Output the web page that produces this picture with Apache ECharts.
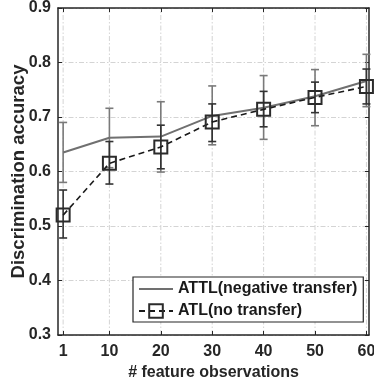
<!DOCTYPE html>
<html>
<head>
<meta charset="utf-8">
<script src="https://cdn.jsdelivr.net/npm/echarts@6/dist/echarts.min.js"></script>
<style>
  html, body { margin: 0; padding: 0; background: #fff; }
  #chart { width: 374px; height: 387px; }
</style>
</head>
<body>
<div id="chart"></div>
<script>
// 数据
var xValues = [1, 10, 20, 30, 40, 50, 60]
var yTicks = [0.3, 0.4, 0.5, 0.6, 0.7, 0.8, 0.9]

var attlMean = [0.635, 0.662, 0.664, 0.702, 0.717, 0.738, 0.766]
var attlLow = [0.580, 0.607, 0.599, 0.649, 0.659, 0.684, 0.719]
var attlHigh = [0.690, 0.716, 0.728, 0.757, 0.776, 0.787, 0.815]

var atlMean = [0.520, 0.615, 0.645, 0.691, 0.714, 0.736, 0.756]
var atlLow = [0.478, 0.577, 0.605, 0.655, 0.682, 0.708, 0.724]
var atlHigh = [0.566, 0.655, 0.685, 0.724, 0.747, 0.764, 0.788]

var font = '"Liberation Sans", Arial, Helvetica, sans-serif'
var axisColor = '#262626'
var gridColor = '#d4d4d4'
var dashDot = [5, 2, 1.5, 2]

function pairs(xs, ys) {
  return xs.map(function (x, i) { return [x, ys[i]] })
}
function bars(xs, lo, hi) {
  return xs.map(function (x, i) { return [x, lo[i], hi[i]] })
}

// 误差棒
function errorBar(color) {
  return function (params, api) {
    var x = api.value(0)
    var lo = api.coord([x, api.value(1)])
    var hi = api.coord([x, api.value(2)])
    var w = 4
    var style = { stroke: color, lineWidth: 1.6 }
    return {
      type: 'group',
      children: [
        { type: 'line', shape: { x1: lo[0], y1: lo[1], x2: hi[0], y2: hi[1] }, style: style },
        { type: 'line', shape: { x1: lo[0] - w, y1: lo[1], x2: lo[0] + w, y2: lo[1] }, style: style },
        { type: 'line', shape: { x1: hi[0] - w, y1: hi[1], x2: hi[0] + w, y2: hi[1] }, style: style },
      ],
    }
  }
}

var chart = echarts.init(document.getElementById('chart'))
var option = {
  animation: false,
  textStyle: { fontFamily: font },
  grid: { left: 58, right: 5, top: 8, bottom: 52, outerBoundsMode: 'none' },
  legend: {
    data: [
      { name: 'ATTL(negative transfer)', itemStyle: { opacity: 0 } },
      { name: 'ATL(no transfer)' },
    ],
    orient: 'vertical',
    left: 133,
    top: 277,
    itemWidth: 34,
    itemHeight: 17,
    itemGap: 6,
    padding: [4, 6, 3, 5],
    borderColor: axisColor,
    borderWidth: 1.2,
    backgroundColor: '#fff',
    textStyle: { fontFamily: font, fontWeight: 'bold', fontSize: 16, color: '#1a1a1a' },
  },
  xAxis: [
    {
      type: 'value',
      min: 0,
      max: 60.5,
      name: '# feature observations',
      nameLocation: 'middle',
      nameGap: 30,
      nameMoveOverlap: false,
      nameTextStyle: { fontFamily: font, fontWeight: 'bold', fontSize: 16, color: '#262626' },
      axisLine: { lineStyle: { color: axisColor, width: 1.5 } },
      axisTick: { inside: true, length: 4, customValues: xValues, lineStyle: { color: axisColor } },
      axisLabel: {
        customValues: xValues,
        margin: 9,
        fontFamily: font,
        fontWeight: 'bold',
        fontSize: 16,
        color: '#262626',
      },
      splitLine: { show: false },
    },
    {
      type: 'value',
      position: 'top',
      min: 0,
      max: 60.5,
      axisLine: { onZero: false, lineStyle: { color: axisColor, width: 1.5 } },
      axisTick: { inside: true, length: 4, customValues: xValues, lineStyle: { color: axisColor } },
      axisLabel: { show: false },
      splitLine: { show: false },
    },
  ],
  yAxis: [
    {
      type: 'value',
      min: 0.3,
      max: 0.9,
      interval: 0.1,
      name: 'Discrimination accuracy',
      nameLocation: 'middle',
      nameGap: 30,
      nameMoveOverlap: false,
      nameTextStyle: { fontFamily: font, fontWeight: 'bold', fontSize: 18.5, color: '#262626' },
      axisLine: { show: true, lineStyle: { color: axisColor, width: 1.5 } },
      axisTick: { show: true, inside: true, length: 4, lineStyle: { color: axisColor } },
      axisLabel: {
        margin: 7,
        fontFamily: font,
        fontWeight: 'bold',
        fontSize: 16,
        color: '#262626',
        formatter: function (v) { return v.toFixed(1) },
      },
      splitLine: { show: true, lineStyle: { color: gridColor, type: dashDot, width: 1 } },
    },
    {
      type: 'value',
      position: 'right',
      min: 0.3,
      max: 0.9,
      interval: 0.1,
      axisLine: { show: true, onZero: false, lineStyle: { color: axisColor, width: 1.5 } },
      axisTick: { show: true, inside: true, length: 4, lineStyle: { color: axisColor } },
      axisLabel: { show: false },
      splitLine: { show: false },
    },
  ],
  series: [
    {
      // 竖向网格线
      name: 'vgrid',
      type: 'custom',
      silent: true,
      z: 0,
      data: xValues.map(function (x) { return [x] }),
      encode: { x: 0 },
      renderItem: function (params, api) {
        var x = api.value(0)
        var a = api.coord([x, yTicks[0]])
        var b = api.coord([x, yTicks[yTicks.length - 1]])
        return {
          type: 'line',
          shape: { x1: a[0], y1: a[1], x2: b[0], y2: b[1] },
          style: { stroke: gridColor, lineWidth: 1, lineDash: dashDot },
        }
      },
    },
    {
      name: 'ATTL(negative transfer)',
      type: 'line',
      data: pairs(xValues, attlMean),
      symbol: 'none',
      z: 3,
      lineStyle: { color: '#707070', width: 2 },
      itemStyle: { color: '#707070' },
    },
    {
      name: 'attl-err',
      type: 'custom',
      z: 3,
      data: bars(xValues, attlLow, attlHigh),
      encode: { x: 0, y: [1, 2] },
      renderItem: errorBar('#7a7a7a'),
    },
    {
      name: 'ATL(no transfer)',
      type: 'line',
      data: pairs(xValues, atlMean),
      symbol: 'rect',
      symbolSize: 13,
      z: 4,
      lineStyle: { color: '#1a1a1a', width: 1.6, type: [6, 4] },
      itemStyle: { color: 'rgba(255,255,255,0)', borderColor: '#2b2b2b', borderWidth: 2 },
    },
    {
      name: 'atl-err',
      type: 'custom',
      z: 4,
      data: bars(xValues, atlLow, atlHigh),
      encode: { x: 0, y: [1, 2] },
      renderItem: errorBar('#333333'),
    },
  ],
}
chart.setOption(option)
</script>
</body>
</html>
